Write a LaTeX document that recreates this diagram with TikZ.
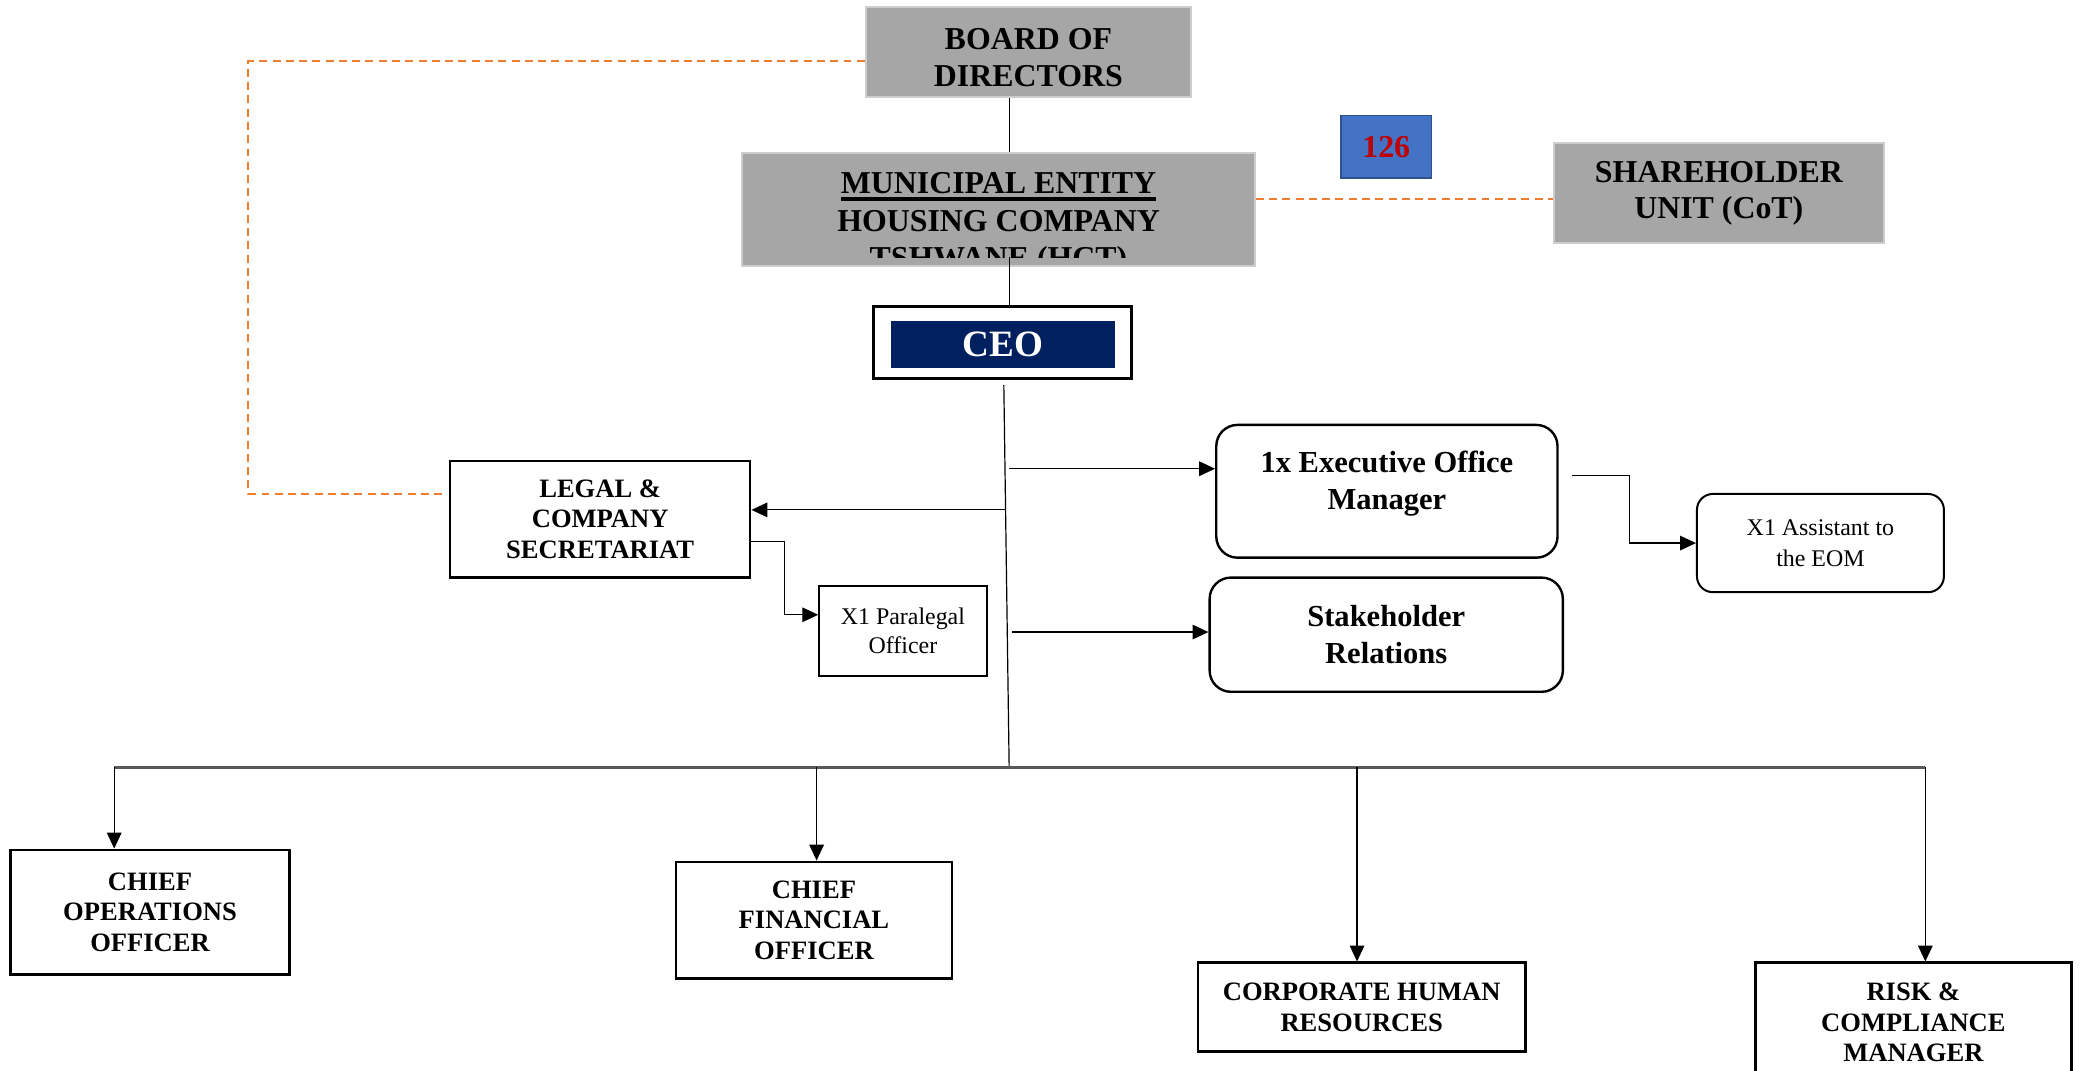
\documentclass[tikz,border=0pt]{standalone}
\usepackage{fontspec}
\setmainfont{Liberation Serif}
\usetikzlibrary{arrows.meta,calc}
\definecolor{boxgray}{RGB}{166,166,166}
\definecolor{edgegray}{RGB}{205,205,205}
\definecolor{navyceo}{RGB}{0,32,96}
\definecolor{orangeline}{RGB}{237,125,49}
\definecolor{blueonetwosix}{RGB}{68,114,196}
\definecolor{blueedge}{RGB}{47,82,143}
\definecolor{redonetwosix}{RGB}{192,0,0}
\definecolor{busgray}{RGB}{89,89,89}
\newcommand{\fsz}[2]{\fontsize{#1}{#2}\selectfont}
\newcommand{\ulthick}[1]{\setbox0\hbox{#1}\leavevmode\rlap{\rule[-5pt]{\wd0}{2.5pt}}\box0}
\begin{document}
\begin{tikzpicture}[x=1pt,y=-1pt,
  graybox/.style={rectangle,fill=boxgray,draw=edgegray,line width=1.5pt,inner sep=0pt,align=center,font=\bfseries\fsz{24}{27.5}},
  sqbox/.style={rectangle,draw=black,fill=white,line width=1.8pt,inner sep=0pt,align=center,font=\bfseries\fsz{20}{23}},
  smallbox/.style={rectangle,draw=black,fill=white,line width=1.6pt,inner sep=0pt,align=center,font=\fsz{18}{22}},
  rbox/.style={rectangle,rounded corners=16pt,draw=black,fill=white,line width=1.8pt,inner sep=0pt,align=center,font=\bfseries\fsz{23}{28}},
  rsmall/.style={rectangle,rounded corners=12pt,draw=black,fill=white,line width=1.5pt,inner sep=0pt,align=center,font=\fsz{18}{23}},
  conn/.style={line width=0.9pt,black},
  arr/.style={line width=0.9pt,black,-{Triangle[length=12pt,width=11pt]}},
  odash/.style={orangeline,line width=1.5pt,dash pattern=on 6pt off 4pt},
]
\fill[white] (0,0) rectangle (1568,806);
\useasboundingbox (0,0) rectangle (1568,806);

% top nodes
\node[graybox,minimum width=245pt,minimum height=68pt,
  label={[font=\bfseries\fsz{24}{27.5},align=center,yshift=-4.5pt,inner sep=0pt]center:{BOARD OF\\DIRECTORS}}] (board) at (774.5,39) {};
\node[graybox,minimum width=386pt,minimum height=85pt] (muni) at (752,157.5) {};
\begin{scope}
  \clip (559,115) rectangle (945,194);
  \node[font=\bfseries\fsz{24}{28},align=center,anchor=north,inner sep=0pt] (munitext) at (752,130)
    {\ulthick{MUNICIPAL ENTITY}\\HOUSING COMPANY\\TSHWANE (HCT)};
\end{scope}
\node[graybox,minimum width=249pt,minimum height=75pt] (sh) at (1294.5,145.5) {SHAREHOLDER\\UNIT (CoT)};
\node[rectangle,fill=blueonetwosix,draw=blueedge,line width=1.2pt,minimum width=68pt,minimum height=47pt,inner sep=0pt,
  font=\bfseries\fsz{24}{28},text=redonetwosix] (num) at (1044,110.5) {126};

\node[rectangle,draw=black,line width=2.2pt,fill=white,minimum width=194pt,minimum height=54pt] (ceo) at (755,258) {};
\node[rectangle,fill=navyceo,minimum width=169pt,minimum height=35pt,inner sep=0pt,font=\bfseries\fsz{28}{32},text=white] (ceoin) at (755.5,259.5) {CEO};

% middle nodes
\node[sqbox,minimum width=226pt,minimum height=88pt] (legal) at (452,391) {LEGAL \&\\COMPANY\\SECRETARIAT};
\node[smallbox,minimum width=126pt,minimum height=68pt] (para) at (680,475) {X1 Paralegal\\Officer};
\node[rbox,minimum width=257pt,minimum height=100pt,
  label={[font=\bfseries\fsz{23}{28},align=center,yshift=5.5pt,inner sep=0pt]center:{1x Executive Office\\Manager}}] (eom) at (1044.5,370) {};
\node[rsmall,minimum width=186pt,minimum height=74pt] (asst) at (1371,409) {X1 Assistant to\\the EOM};
\node[rbox,minimum width=266pt,minimum height=86pt] (stake) at (1044,478) {Stakeholder\\Relations};

% bottom nodes
\node[sqbox,minimum width=210pt,minimum height=94pt] (coo) at (113,687) {CHIEF\\OPERATIONS\\OFFICER};
\node[sqbox,minimum width=208pt,minimum height=88pt] (cfo) at (613,693) {CHIEF\\FINANCIAL\\OFFICER};
\node[sqbox,minimum width=247pt,minimum height=67pt] (chr) at (1025.5,758.5) {CORPORATE HUMAN\\RESOURCES};
\node[sqbox,minimum width=238pt,minimum height=90pt] (risk) at (1441,770) {RISK \&\\COMPLIANCE\\MANAGER};

% top connectors
\coordinate (cx) at (760,0);
\draw[conn] (board.south -| cx) -- (muni.north -| cx);
\draw[conn] ($(muni.south -| cx)+(0,-7)$) -- (ceo.north -| cx);

% dashed orange
\draw[odash] ($(board.west)+(0,7)$) -| ($(legal.west)+(-151,-19)$) -- ($(legal.west)+(-4,-19)$);
\coordinate (mE) at ($(muni.east)+(0,-7.5)$);
\draw[odash] (mE) -- (mE -| sh.west);

% trunk
\coordinate (tbot) at (760,577);
\draw[conn] ($(ceo.south)+(1,4)$) -- (tbot);
\coordinate (tE) at (760,353);
\draw[arr] (tE) -- (tE -| eom.west);
\coordinate (tL) at (757,384);
\draw[arr] (tL) -- (tL -| legal.east);
\coordinate (tS) at (762,476);
\draw[arr] (tS) -- (tS -| stake.west);

% sub connectors
\draw[arr] (legal.east |- 0,408) -- (591,408) |- (para.west |- 0,463);
\draw[arr] ($(eom.east)+(10,-12)$) -- ++(43,0) |- (asst.west);

% bus
\coordinate (busL) at (86,578);
\coordinate (busR) at (1450,578);
\coordinate (b2) at (615,578);
\coordinate (b3) at (1022,578);
\draw[busgray,line width=2pt] (busL) -- (busR);
\draw[arr] (busL) -- (busL |- coo.north);
\draw[arr] (b2) -- (b2 |- cfo.north);
\draw[arr] (b3) -- (b3 |- chr.north);
\draw[arr] (busR) -- (busR |- risk.north);
\end{tikzpicture}
\end{document}
